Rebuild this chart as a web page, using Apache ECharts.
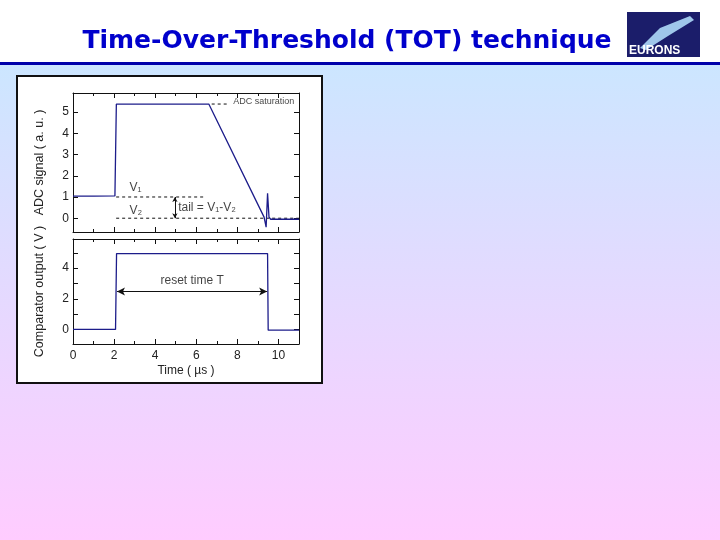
<!DOCTYPE html>
<html><head><meta charset="utf-8">
<script src="https://cdn.jsdelivr.net/npm/echarts@6/dist/echarts.min.js"></script>
<style>html,body{margin:0;padding:0;background:#fff}#c{width:720px;height:540px}</style>
</head><body><div id="c"></div>
<script>
// ADC signal trace (time in µs, signal in a.u.)
const adcTime  = [0, 1.0, 2.04, 2.11, 4.0, 6.61, 9.3, 9.4, 9.47, 9.54, 9.62, 10.5, 11];
const adcValue = [1.04, 1.04, 1.05, 5.38, 5.38, 5.38, 0.05, -0.42, 1.17, 0.05, -0.05, -0.05, -0.05];
// Comparator output trace (time in µs, volts)
const cmpTime  = [0, 2.07, 2.12, 6.0, 9.47, 9.5, 11];
const cmpValue = [0, 0, 4.95, 4.95, 4.95, -0.05, -0.05];
// reference levels / annotations (data units)
const v1Level = {x0: 2.1, x1: 6.45, y: 1};
const v2Level = {x0: 2.1, x1: 11, y: 0};
const satLevel = {x0: 6.75, x1: 7.6, y: 5.38};
const tailArrow = {x: 4.96, y0: 1, y1: 0};
const resetArrow = {x0: 2.14, x1: 9.45, y: 2.48};
const xTicks = [0, 2, 4, 6, 8, 10];
const adcTicks = [0, 1, 2, 3, 4, 5];
const cmpTickLabels = [0, 2, 4];
const cmpTicks = [0, 1, 2, 3, 4, 5];

const font = 'Liberation Sans, Arial, sans-serif';
const lineColor = '#1c1c8a';
const zip = (a, b) => a.map((v, i) => [v, b[i]]);

function xAx(grid, pos, labels) {
  return {type: 'value', gridIndex: grid, position: pos, min: 0, max: 11, interval: 2,
    axisLine: {show: true, onZero: false, lineStyle: {color: '#111'}},
    axisTick: {show: true, inside: true, length: 5, lineStyle: {color: '#111'}},
    minorTick: {show: true, splitNumber: 2, length: 3, lineStyle: {color: '#111'}},
    splitLine: {show: false},
    axisLabel: {show: labels, color: '#222', fontFamily: font, fontSize: 12, margin: 6,
      customValues: xTicks},
    name: labels ? 'Time ( \u00b5s )' : '', nameLocation: 'middle', nameGap: 21,
    nameTextStyle: {color: '#222', fontFamily: font, fontSize: 12}};
}
function yAx(grid, pos, min, max, ticks, labels, name) {
  return {type: 'value', gridIndex: grid, position: pos, min: min, max: max,
    axisLine: {show: true, onZero: false, lineStyle: {color: '#111'}},
    axisTick: {show: true, inside: true, length: 5, customValues: ticks, lineStyle: {color: '#111'}},
    splitLine: {show: false},
    axisLabel: {show: pos === 'left', color: '#222', fontFamily: font, fontSize: 12, margin: 4,
      customValues: labels},
    name: pos === 'left' ? name : '', nameLocation: 'middle', nameGap: 27,
    nameTextStyle: {color: '#222', fontFamily: font, fontSize: 12.5}};
}
function hLine(xi, yi, seg, dashed) {
  return {type: 'line', xAxisIndex: xi, yAxisIndex: yi, symbol: 'none', silent: true,
    data: [[seg.x0, seg.y], [seg.x1, seg.y]],
    lineStyle: {color: '#111', width: 1, type: dashed ? [3, 3] : 'solid'}, z: 3};
}
function label(xi, yi, x, y, text, size, align) {
  return {type: 'scatter', xAxisIndex: xi, yAxisIndex: yi, symbolSize: 0, silent: true,
    data: [[x, y]],
    label: {show: true, position: 'inside', formatter: text, color: '#111', fontFamily: font,
      fontSize: size, align: align || 'left', verticalAlign: 'middle'}};
}

const chart = echarts.init(document.getElementById('c'));
chart.setOption({
  animation: false,
  graphic: [
    {type: 'rect', shape: {x: 0, y: 64, width: 720, height: 476}, z: -10,
      style: {fill: {type: 'linear', x: 0, y: 0, x2: 0, y2: 1,
        colorStops: [{offset: 0, color: '#cce6ff'}, {offset: 1, color: '#ffccff'}]}}},
    {type: 'rect', shape: {x: 0, y: 62, width: 720, height: 3}, z: -9, style: {fill: '#0000aa'}},
    {type: 'text', x: 347, y: 41, z: 5, style: {text: 'Time-Over-Threshold (TOT) technique',
      fill: '#0000cc', font: 'bold 25px "DejaVu Sans", sans-serif', align: 'center', verticalAlign: 'middle'}},
    {type: 'rect', shape: {x: 627, y: 12, width: 73, height: 45}, z: 5, style: {fill: '#1b1d6a'}},
    {type: 'polygon', shape: {points: [[640, 48], [660, 28], [690, 16], [694, 20], [668, 36], [646, 50]]}, z: 6,
      style: {fill: '#9fc6ea'}},
    {type: 'text', x: 629, y: 51, z: 7, style: {text: 'EURONS', fill: '#fff',
      font: 'bold 12px "Liberation Sans", sans-serif', verticalAlign: 'middle'}},
    {type: 'rect', shape: {x: 17, y: 76, width: 305, height: 307}, z: -5,
      style: {fill: '#fff', stroke: '#111', lineWidth: 2}}
  ],
  grid: [
    {left: 73, top: 93, width: 226, height: 139},
    {left: 73, top: 239, width: 226, height: 105}
  ],
  xAxis: [xAx(0, 'bottom', false), xAx(0, 'top', false), xAx(1, 'bottom', true), xAx(1, 'top', false)],
  yAxis: [
    yAx(0, 'left', -0.65, 5.9, adcTicks, adcTicks, 'ADC signal ( a. u. )'),
    yAx(0, 'right', -0.65, 5.9, adcTicks, adcTicks, ''),
    yAx(1, 'left', -0.95, 5.9, cmpTicks, cmpTickLabels, 'Comparator output ( V )'),
    yAx(1, 'right', -0.95, 5.9, cmpTicks, cmpTickLabels, '')
  ],
  series: [
    hLine(0, 0, v1Level, true),
    hLine(0, 0, v2Level, true),
    hLine(0, 0, satLevel, true),
    {type: 'line', xAxisIndex: 0, yAxisIndex: 0, symbol: 'none', data: zip(adcTime, adcValue),
      lineStyle: {color: lineColor, width: 1.3}, z: 4},
    {type: 'line', xAxisIndex: 2, yAxisIndex: 2, symbol: 'none', data: zip(cmpTime, cmpValue),
      lineStyle: {color: lineColor, width: 1.3}, z: 4},
    {type: 'line', xAxisIndex: 0, yAxisIndex: 0, symbol: 'none', data: [], silent: true,
      markLine: {silent: true, symbol: ['arrow', 'arrow'], symbolSize: [4, 5], label: {show: false},
        lineStyle: {color: '#111', width: 1, type: 'solid'},
        data: [[{coord: [tailArrow.x, tailArrow.y0]}, {coord: [tailArrow.x, tailArrow.y1]}]]}},
    {type: 'line', xAxisIndex: 2, yAxisIndex: 2, symbol: 'none', data: [], silent: true,
      markLine: {silent: true, symbol: ['arrow', 'arrow'], symbolSize: [6, 8], label: {show: false},
        lineStyle: {color: '#111', width: 1, type: 'solid'},
        data: [[{coord: [resetArrow.x0, resetArrow.y]}, {coord: [resetArrow.x1, resetArrow.y]}]]}},
    label(0, 0, 7.8, 5.48, 'ADC saturation', 9),
    label(0, 0, 2.75, 1.45, 'V\u2081', 12),
    label(0, 0, 2.75, 0.35, 'V\u2082', 12),
    label(0, 0, 5.12, 0.5, 'tail = V\u2081-V\u2082', 12),
    label(2, 2, 5.8, 3.15, 'reset time T', 12, 'center')
  ]
});
</script></body></html>
